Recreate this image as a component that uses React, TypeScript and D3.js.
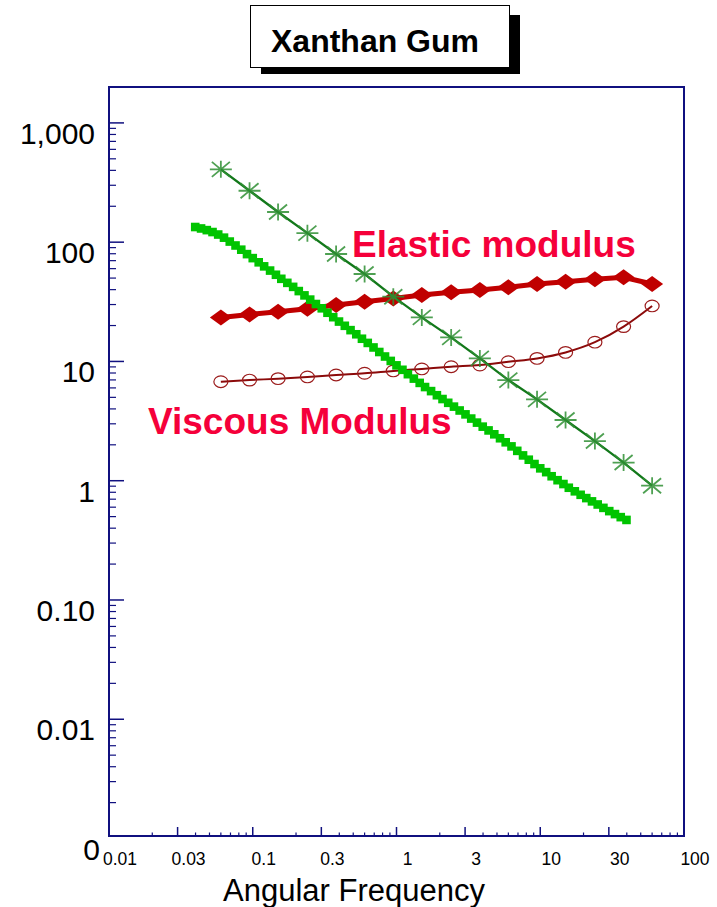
import React from "react";
import * as d3 from "d3";

// ---- data ----
const oscFreq = [0.06, 0.095, 0.15, 0.24, 0.38, 0.6, 0.95, 1.5, 2.4, 3.8, 6, 9.5, 15, 24, 38, 60];
const complexViscosity = [408, 270, 179, 119, 79.6, 54.1, 34.9, 23.4, 15.9, 10.6, 6.98, 4.81, 3.23, 2.15, 1.42, 0.908];
const elasticModulus = [23.4, 24.8, 26.1, 27.7, 29.7, 31.7, 33.7, 36.1, 38.1, 39.7, 41.9, 44.6, 46.6, 48.9, 50.7, 44.6];
const viscousModulus = [6.76, 6.98, 7.17, 7.41, 7.7, 7.96, 8.32, 8.65, 9.03, 9.33, 9.95, 10.6, 11.9, 14.5, 19.6, 29.2];

const shearRate = [
  0.0398, 0.0437, 0.0479, 0.0525, 0.0575, 0.0631, 0.0692, 0.0759, 0.0832, 0.0912,
  0.1, 0.11, 0.12, 0.132, 0.145, 0.158, 0.174, 0.191, 0.209, 0.229, 0.251, 0.275, 0.302, 0.331, 0.363,
  0.398, 0.437, 0.479, 0.525, 0.575, 0.631, 0.692, 0.759, 0.832, 0.912,
  1.0, 1.1, 1.2, 1.32, 1.45, 1.58, 1.74, 1.91, 2.09, 2.29, 2.51, 2.75, 3.02, 3.31, 3.63,
  3.98, 4.37, 4.79, 5.25, 5.75, 6.31, 6.92, 7.59, 8.32, 9.12,
  10, 11.0, 12.0, 13.2, 14.5, 15.8, 17.4, 19.1, 20.9, 22.9, 25.1, 27.5, 30.2, 33.1, 36.3, 39.8,
];
const steadyViscosity = [
  134, 130.3, 126.2, 121.6, 115.9, 109.1, 101.2, 93.8, 86.5, 79.4,
  73.5, 67.8, 62.7, 57.8, 53.3, 49.3, 45.6, 42.2, 38.9, 35.8,
  33.0, 30.3, 27.9, 25.6, 23.5, 21.6, 19.9, 18.3, 16.9, 15.5,
  14.3, 13.1, 12.0, 11.0, 10.1, 9.27, 8.51, 7.82, 7.18, 6.61,
  6.1, 5.64, 5.21, 4.84, 4.5, 4.18, 3.88, 3.6, 3.32, 3.07,
  2.84, 2.64, 2.45, 2.27, 2.1, 1.94, 1.78, 1.63, 1.5, 1.38,
  1.27, 1.18, 1.09, 1.01, 0.938, 0.873, 0.815, 0.762, 0.715, 0.671,
  0.632, 0.592, 0.556, 0.525, 0.495, 0.469,
];

const xTickValues = [0.01, 0.03, 0.1, 0.3, 1, 3, 10, 30, 100];
const xTickLabels = ["0.01", "0.03", "0.1", "0.3", "1", "3", "10", "30", "100"];
const yTickValues = [0.01, 0.1, 1, 10, 100, 1000];
const yTickLabels = ["0.01", "0.10", "1", "10", "100", "1,000"];
const minorMultipliers = [2, 3, 4, 5, 6, 7, 8, 9];
const decades = [0.001, 0.01, 0.1, 1, 10, 100, 1000];

const titleText = "Xanthan Gum";
const xTitle = "Angular Frequency";
const elasticLabel = "Elastic modulus";
const viscousLabel = "Viscous Modulus";

// ---- layout ----
const W = 717;
const H = 907;
const L = 109, R = 684, T = 87, B = 836;
const FONT = "'Liberation Sans', Arial, Helvetica, sans-serif";
const NAVY = "#10107f";

export default function App() {
  const x = d3.scaleLog().domain([0.01, 100]).range([L, R]);
  const y = d3.scaleLog().domain([0.00105, 2000]).range([B, T]);

  const xMajor = [0.03, 0.1, 0.3, 1, 3, 10, 30];
  const xMinor: number[] = [];
  decades.forEach((d) => [2, 4, 5, 6, 7, 8, 9].forEach((m) => {
    const v = d * m;
    if (v > 0.01 && v < 100) xMinor.push(v);
  }));
  const yMinor: number[] = [];
  decades.forEach((d) => minorMultipliers.forEach((m) => {
    const v = d * m;
    if (v > 0.00105 && v < 2000) yMinor.push(v);
  }));

  const line = d3.line<number>().x((_, i) => x(oscFreq[i])).y((v) => y(v));
  const curve = d3.line<number>().x((_, i) => x(oscFreq[i])).y((v) => y(v)).curve(d3.curveMonotoneX);

  const starPath = "M-11,0H11M0,-8.5V8.5M-9,-7.5L9,7.5M-9,7.5L9,-7.5";
  const diamondPath = "M-11,0L0,-8L11,0L0,8Z";

  return (
    <svg width={W} height={H} style={{ position: "absolute", left: 0, top: 0, background: "#fff" }} fontFamily={FONT}>
      <rect x={0} y={0} width={W} height={H} fill="#fff" />
      {/* title box */}
      <rect x={261} y={15} width={259} height={59} fill="#000" />
      <rect x={250.5} y={5.5} width={259} height={62} fill="#fff" stroke="#000" strokeWidth={1} />
      <text x={375} y={52} textAnchor="middle" fontSize={32} fontWeight="bold" fill="#000">{titleText}</text>

      {/* frame */}
      <rect x={L} y={T} width={R - L} height={B - T} fill="none" stroke={NAVY} strokeWidth={2} />

      {/* y ticks */}
      {yTickValues.map((v) => (
        <line key={"ym" + v} x1={L} x2={L + 15} y1={y(v)} y2={y(v)} stroke={NAVY} strokeWidth={1.5} />
      ))}
      {yMinor.map((v) => (
        <line key={"yn" + v} x1={L} x2={L + 7} y1={y(v)} y2={y(v)} stroke={NAVY} strokeWidth={1.2} />
      ))}
      {yTickValues.map((v, i) => (
        <text key={"yl" + v} x={95} y={y(v) + 21} textAnchor="end" fontSize={30} fill="#000">{yTickLabels[i]}</text>
      ))}
      <text x={100} y={860} textAnchor="end" fontSize={30} fill="#000">0</text>

      {/* x ticks */}
      {xMajor.map((v) => (
        <line key={"xm" + v} x1={x(v)} x2={x(v)} y1={B} y2={B - 9} stroke={NAVY} strokeWidth={1.5} />
      ))}
      {xMinor.map((v) => (
        <line key={"xn" + v} x1={x(v)} x2={x(v)} y1={B} y2={B - 3.5} stroke={NAVY} strokeWidth={1.2} />
      ))}
      {xTickValues.map((v, i) => (
        <text key={"xl" + v} x={x(v) + 11} y={865} textAnchor="middle" fontSize={17.5} fill="#000">{xTickLabels[i]}</text>
      ))}
      <text x={354} y={901} textAnchor="middle" fontSize={31} fill="#000">{xTitle}</text>

      {/* viscous modulus (open circles) */}
      <path d={curve(viscousModulus) || ""} fill="none" stroke="#8b0a0a" strokeWidth={2} />
      {viscousModulus.map((v, i) => (
        <ellipse key={"c" + i} cx={x(oscFreq[i])} cy={y(v)} rx={7} ry={5.8} fill="none" stroke="#9b1c1c" strokeWidth={1.2} />
      ))}

      {/* elastic modulus (diamonds) */}
      <path d={line(elasticModulus) || ""} fill="none" stroke="#c00000" strokeWidth={5} />
      {elasticModulus.map((v, i) => (
        <path key={"d" + i} d={diamondPath} transform={`translate(${x(oscFreq[i])},${y(v)})`} fill="#c00000" />
      ))}

      {/* steady viscosity (squares) */}
      {steadyViscosity.map((v, i) => (
        <rect key={"s" + i} x={x(shearRate[i]) - 4.3} y={y(v) - 4.3} width={8.6} height={8.6} fill="#00c400" />
      ))}

      {/* complex viscosity (stars) */}
      <path d={line(complexViscosity) || ""} fill="none" stroke="#12781a" strokeWidth={2.3} />
      {complexViscosity.map((v, i) => (
        <path key={"st" + i} d={starPath} transform={`translate(${x(oscFreq[i])},${y(v)})`} fill="none" stroke="#2f8f34" strokeOpacity={0.85} strokeWidth={1.8} />
      ))}

      {/* annotations */}
      <text x={352} y={257} fontSize={37} fontWeight="bold" fill="#f5003a">{elasticLabel}</text>
      <text x={148} y={434} fontSize={37} fontWeight="bold" fill="#f5003a">{viscousLabel}</text>
    </svg>
  );
}
